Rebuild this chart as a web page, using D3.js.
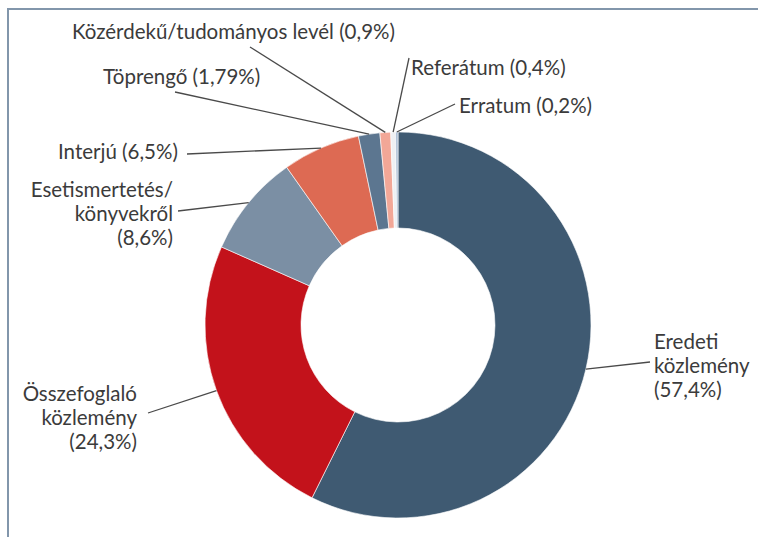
<!DOCTYPE html>
<html lang="hu">
<head>
<meta charset="UTF-8">
<title>Közlemények típusai</title>
<script src="https://d3js.org/d3.v7.min.js"></script>
<style>
  body { margin: 0; background: #fff; }
  text { font-family: Lato, "Open Sans", sans-serif; fill: #3b3b3b; }
</style>
</head>
<body>
<script>
// data
const categories = ["Eredeti közlemény", "Összefoglaló közlemény", "Esetismertetés/könyvekről",
  "Interjú", "Töprengő", "Közérdekű/tudományos levél", "Referátum", "Erratum"];
const shares = [57.4, 24.3, 8.6, 6.5, 1.79, 0.9, 0.4, 0.2];
const labelLines = [
  ["Eredeti", "közlemény", "(57,4%)"],
  ["Összefoglaló", "közlemény", "(24,3%)"],
  ["Esetismertetés/", "könyvekről", "(8,6%)"],
  ["Interjú (6,5%)"],
  ["Töprengő (1,79%)"],
  ["Közérdekű/tudományos levél (0,9%)"],
  ["Referátum (0,4%)"],
  ["Erratum (0,2%)"]
];
const colors = ["#3f5a72", "#c3121b", "#7b8fa4", "#dd6a53", "#5c7690", "#f2a797", "#eef0f3", "#a9bdd4"];

// layout: label text anchor, first line y, leader start point
const layout = [
  { x: 654, y: 342, anchor: "start", lx: 650, ly: 362 },
  { x: 137, y: 394, anchor: "end", lx: 148, ly: 413 },
  { x: 173, y: 190, anchor: "end", lx: 178, ly: 211 },
  { x: 58, y: 152, anchor: "start", lx: 187, ly: 154 },
  { x: 103, y: 77, anchor: "start", lx: 175, ly: 92 },
  { x: 72, y: 32, anchor: "start", lx: 250, ly: 47 },
  { x: 411, y: 68, anchor: "start", lx: 409, ly: 58 },
  { x: 459, y: 106, anchor: "start", lx: 455, ly: 104 }
];

const width = 758, height = 537;
const cx = 398, cy = 325, rOuter = 193, rInner = 97;

const svg = d3.select("body").append("svg")
  .attr("width", width)
  .attr("height", height);

// frame
svg.append("path")
  .attr("d", "M8," + height + " V9 H" + width)
  .attr("fill", "none")
  .attr("stroke", "#8296ab")
  .attr("stroke-width", 2);

const pie = d3.pie().sort(null).value(d => d);
const arcs = pie(shares);
const arc = d3.arc().innerRadius(rInner).outerRadius(rOuter);

const g = svg.append("g").attr("transform", "translate(" + cx + "," + cy + ")");

g.selectAll("path.slice")
  .data(arcs)
  .enter()
  .append("path")
  .attr("class", "slice")
  .attr("d", arc)
  .attr("fill", (d, i) => colors[i])
  .attr("stroke", "#fff")
  .attr("stroke-width", 0.6);

// leader lines: from label to outer edge of slice
svg.append("g").selectAll("line")
  .data(arcs)
  .enter()
  .append("line")
  .attr("x1", (d, i) => layout[i].lx)
  .attr("y1", (d, i) => layout[i].ly)
  .attr("x2", d => {
    const a = (d.startAngle + d.endAngle) / 2;
    return cx + rOuter * Math.sin(a);
  })
  .attr("y2", d => {
    const a = (d.startAngle + d.endAngle) / 2;
    return cy - rOuter * Math.cos(a);
  })
  .attr("stroke", "#4a4a4a")
  .attr("stroke-width", 1.3);

// labels
const labels = svg.append("g").selectAll("text")
  .data(labelLines)
  .enter()
  .append("text")
  .attr("text-anchor", (d, i) => layout[i].anchor)
  .attr("font-size", 20.5);

labels.selectAll("tspan")
  .data((d, i) => d.map(t => ({ t: t, i: i })))
  .enter()
  .append("tspan")
  .attr("x", d => layout[d.i].x)
  .attr("y", (d, j) => layout[d.i].y + j * 24)
  .attr("dy", "0.35em")
  .text(d => d.t);
</script>
</body>
</html>
